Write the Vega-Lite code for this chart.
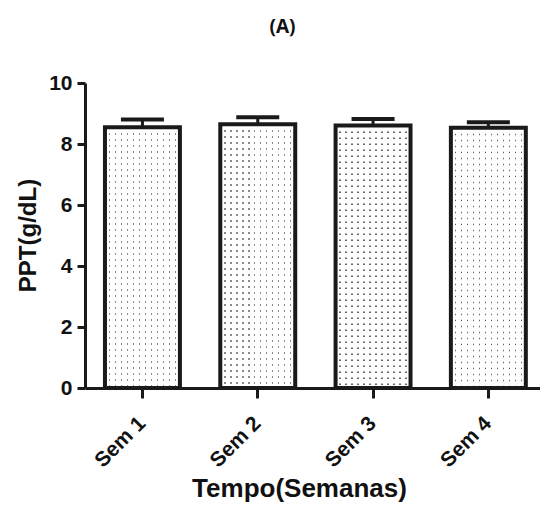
{
  "$schema": "https://vega.github.io/schema/vega-lite/v6.json",
  "autosize": {"type": "none"},
  "padding": {"left": 85, "top": 83, "right": 0, "bottom": 117},
  "width": 455,
  "height": 305,
  "background": "white",
  "title": {
    "text": "(A)",
    "font": "Open Sans",
    "fontSize": 19,
    "fontWeight": "bold",
    "color": "#111",
    "anchor": "middle",
    "frame": "group",
    "dx": -30,
    "offset": 35
  },
  "config": {
    "view": {"stroke": null},
    "axis": {
      "domainColor": "#1a1a1a",
      "domainWidth": 3,
      "tickColor": "#1a1a1a",
      "tickWidth": 3,
      "labelFont": "Liberation Sans",
      "labelFontWeight": "bold",
      "labelFontSize": 21,
      "labelColor": "#111",
      "titleFont": "Liberation Sans",
      "titleFontWeight": "bold",
      "titleColor": "#111",
      "grid": false
    }
  },
  "data": {
    "values": [
      {"semana": "Sem 1", "media": 8.55, "superior": 8.80},
      {"semana": "Sem 2", "media": 8.65, "superior": 8.88},
      {"semana": "Sem 3", "media": 8.61, "superior": 8.82},
      {"semana": "Sem 4", "media": 8.53, "superior": 8.71}
    ]
  },
  "encoding": {
    "x": {
      "field": "semana",
      "type": "nominal",
      "sort": null,
      "scale": {"paddingInner": 0.35, "paddingOuter": 0.148, "align": 0.585},
      "axis": {
        "title": "Tempo(Semanas)",
        "titleFontSize": 26,
        "labelAngle": -45,
        "labelAlign": "right",
        "labelBaseline": "middle",
        "labelPadding": 22,
        "tickSize": 10,
        "titleBaseline": "alphabetic",
        "titleX": 214,
        "titleY": 108
      }
    }
  },
  "layer": [
    {
      "mark": {"type": "rule", "color": "#666", "strokeWidth": 74, "strokeDash": [1.5, 4.5]},
      "encoding": {
        "y": {
          "field": "media",
          "type": "quantitative",
          "scale": {"domain": [0, 10], "nice": false},
          "axis": {
            "title": "PPT(g/dL)",
            "titleFontSize": 24,
            "values": [0, 2, 4, 6, 8, 10],
            "tickSize": 8,
            "labelPadding": 5,
            "titleBaseline": "middle",
            "titleX": -57,
            "titleY": 152
          }
        },
        "y2": {"datum": 0}
      }
    },
    {
      "mark": {
        "type": "bar",
        "fill": {
          "gradient": "linear",
          "x1": 0, "y1": 0, "x2": 1, "y2": 0,
          "stops": [
            {"offset": 0.0, "color": "white"},
            {"offset": 0.05, "color": "white"}, {"offset": 0.05, "color": "rgba(255,255,255,0)"}, {"offset": 0.07, "color": "rgba(255,255,255,0)"}, {"offset": 0.07, "color": "white"},
            {"offset": 0.13, "color": "white"}, {"offset": 0.13, "color": "rgba(255,255,255,0)"}, {"offset": 0.15, "color": "rgba(255,255,255,0)"}, {"offset": 0.15, "color": "white"},
            {"offset": 0.21, "color": "white"}, {"offset": 0.21, "color": "rgba(255,255,255,0)"}, {"offset": 0.23, "color": "rgba(255,255,255,0)"}, {"offset": 0.23, "color": "white"},
            {"offset": 0.29, "color": "white"}, {"offset": 0.29, "color": "rgba(255,255,255,0)"}, {"offset": 0.31, "color": "rgba(255,255,255,0)"}, {"offset": 0.31, "color": "white"},
            {"offset": 0.37, "color": "white"}, {"offset": 0.37, "color": "rgba(255,255,255,0)"}, {"offset": 0.39, "color": "rgba(255,255,255,0)"}, {"offset": 0.39, "color": "white"},
            {"offset": 0.45, "color": "white"}, {"offset": 0.45, "color": "rgba(255,255,255,0)"}, {"offset": 0.47, "color": "rgba(255,255,255,0)"}, {"offset": 0.47, "color": "white"},
            {"offset": 0.53, "color": "white"}, {"offset": 0.53, "color": "rgba(255,255,255,0)"}, {"offset": 0.55, "color": "rgba(255,255,255,0)"}, {"offset": 0.55, "color": "white"},
            {"offset": 0.61, "color": "white"}, {"offset": 0.61, "color": "rgba(255,255,255,0)"}, {"offset": 0.63, "color": "rgba(255,255,255,0)"}, {"offset": 0.63, "color": "white"},
            {"offset": 0.69, "color": "white"}, {"offset": 0.69, "color": "rgba(255,255,255,0)"}, {"offset": 0.71, "color": "rgba(255,255,255,0)"}, {"offset": 0.71, "color": "white"},
            {"offset": 0.77, "color": "white"}, {"offset": 0.77, "color": "rgba(255,255,255,0)"}, {"offset": 0.79, "color": "rgba(255,255,255,0)"}, {"offset": 0.79, "color": "white"},
            {"offset": 0.85, "color": "white"}, {"offset": 0.85, "color": "rgba(255,255,255,0)"}, {"offset": 0.87, "color": "rgba(255,255,255,0)"}, {"offset": 0.87, "color": "white"},
            {"offset": 0.93, "color": "white"}, {"offset": 0.93, "color": "rgba(255,255,255,0)"}, {"offset": 0.95, "color": "rgba(255,255,255,0)"}, {"offset": 0.95, "color": "white"},
            {"offset": 1.0, "color": "white"}
          ]
        }
      },
      "encoding": {
        "y": {"field": "media", "type": "quantitative"}
      }
    },
    {
      "mark": {"type": "bar", "fill": "transparent", "stroke": "#1a1a1a", "strokeWidth": 4, "strokeJoin": "miter"},
      "encoding": {
        "y": {"field": "media", "type": "quantitative"}
      }
    },
    {
      "mark": {"type": "rule", "color": "#1a1a1a", "strokeWidth": 3},
      "encoding": {
        "y": {"field": "media", "type": "quantitative"},
        "y2": {"field": "superior"}
      }
    },
    {
      "mark": {"type": "tick", "color": "#1a1a1a", "opacity": 1, "size": 43, "thickness": 4, "orient": "horizontal"},
      "encoding": {
        "y": {"field": "superior", "type": "quantitative"}
      }
    }
  ]
}
